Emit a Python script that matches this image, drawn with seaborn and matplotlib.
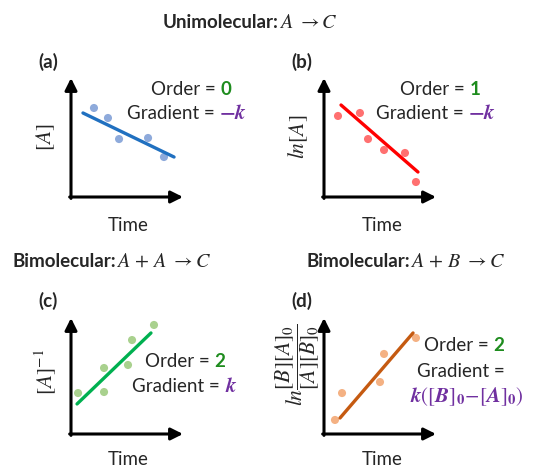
import matplotlib
matplotlib.use("Agg")
import matplotlib.pyplot as plt
import seaborn as sns

sns.set_theme(style="white")
plt.rcParams['font.family'] = ['Lato', 'DejaVu Sans']
plt.rcParams['mathtext.fontset'] = 'stix'

# ---------------- data (axis units 0..10) ----------------
a_x = [2.05, 3.30, 4.29, 6.88, 8.30]
a_y = [7.48, 6.64, 4.87, 4.96, 3.36]
a_fit_x = [1.07, 9.20]
a_fit_y = [7.06, 3.36]

b_x = [1.25, 3.21, 3.93, 5.36, 7.23, 8.21]
b_y = [6.81, 7.06, 4.87, 3.95, 3.70, 1.26]
b_fit_x = [1.52, 8.39]
b_fit_y = [7.73, 2.10]

c_x = [0.63, 2.95, 2.95, 5.45, 5.09, 7.41]
c_y = [3.53, 5.69, 3.62, 8.10, 5.95, 9.40]
c_fit_x = [0.54, 7.14]
c_fit_y = [2.59, 8.71]

d_x = [0.98, 1.61, 5.00, 5.36, 8.21]
d_y = [1.21, 3.53, 4.48, 6.90, 8.28]
d_fit_x = [1.43, 7.95]
d_fit_y = [1.38, 8.71]

panel_labels = ["(a)", "(b)", "(c)", "(d)"]
y_labels = [r"$[A]$", r"$ln[A]$", r"$[A]^{-1}$", r"$ln\dfrac{[B][A]_0}{[A][B]_0}$"]
orders = ["0", "1", "2", "2"]
x_label = "Time"

GREEN = "#1e8c1e"
PURPLE = "#7030a0"

W, H = 552, 468
fig = plt.figure(figsize=(W / 100, H / 100), dpi=100)

# overlay axes in pixel coordinates (y down)
ov = fig.add_axes([0, 0, 1, 1])
ov.set_xlim(0, W)
ov.set_ylim(H, 0)
ov.axis("off")
ov.set_zorder(5)

renderer = fig.canvas.get_renderer()


def rich(x, y, parts, ha="center", size=13.5):
    """parts: list of (text, dict). y is baseline in pixel coords."""
    arts = []
    widths = []
    for s, kw in parts:
        kw = dict(kw)
        fs = kw.pop("size", size)
        t = ov.text(0, y, s, va="baseline", ha="left", fontsize=fs, **kw)
        arts.append(t)
        widths.append(t.get_window_extent(renderer).width)
    total = sum(widths)
    if ha == "center":
        x0 = x - total / 2
    elif ha == "right":
        x0 = x - total
    else:
        x0 = x
    for t, w in zip(arts, widths):
        t.set_x(x0)
        x0 += w
    return arts


# panel boxes in pixels: (left, top, right, bottom)
boxes = [(71, 78, 183, 197), (324, 78, 436, 197),
         (71, 318, 183, 434), (324, 318, 436, 434)]
datasets = [(a_x, a_y, a_fit_x, a_fit_y, "#8eaadb", "#2070c0"),
            (b_x, b_y, b_fit_x, b_fit_y, "#ff7070", "#ff0000"),
            (c_x, c_y, c_fit_x, c_fit_y, "#a9d18e", "#00b050"),
            (d_x, d_y, d_fit_x, d_fit_y, "#f4b183", "#c55a11")]

for i, ((l, t, r, b), (px, py, fx, fy, pc, lc)) in enumerate(zip(boxes, datasets)):
    ax = fig.add_axes([l / W, 1 - b / H, (r - l) / W, (b - t) / H])
    ax.set_xlim(0, 10)
    ax.set_ylim(0, 10)
    ax.set_facecolor("none")
    for s in ax.spines.values():
        s.set_visible(False)
    ax.set_xticks([])
    ax.set_yticks([])
    sns.scatterplot(x=px, y=py, ax=ax, color=pc, s=34, edgecolor="none", zorder=2)
    sns.lineplot(x=fx, y=fy, ax=ax, color=lc, linewidth=2.4, sort=False, zorder=3)
    # arrow axes
    ax.annotate("", xy=(0, 1), xytext=(0, -0.012), xycoords="axes fraction",
                arrowprops=dict(arrowstyle="-|>,head_length=0.6,head_width=0.3",
                                color="black", lw=2.2, shrinkA=0, shrinkB=0),
                annotation_clip=False)
    ax.annotate("", xy=(1, 0), xytext=(-0.012, 0), xycoords="axes fraction",
                arrowprops=dict(arrowstyle="-|>,head_length=0.6,head_width=0.3",
                                color="black", lw=2.2, shrinkA=0, shrinkB=0),
                annotation_clip=False)

# titles
rich(250, 28, [("Unimolecular:", dict(fontweight="bold")),
               (r"$A\ \rightarrow C$", dict(size=14.5))])
rich(12, 267, [("Bimolecular:", dict(fontweight="bold")),
               (r"$A\,+\,A\ \rightarrow C$", dict(size=14.5))], ha="left")
rich(306, 267, [("Bimolecular:", dict(fontweight="bold")),
                (r"$A\,+\,B\ \rightarrow C$", dict(size=14.5))], ha="left")

# panel labels
for (x, y), lab in zip([(38, 68), (291, 68), (38, 307), (291, 307)], panel_labels):
    ov.text(x, y, lab, fontsize=13.5, fontweight="bold", va="baseline", ha="left")

# y labels
for (x, y), lab in zip([(46, 137), (298, 137), (46, 372), (298, 365)], y_labels):
    ov.text(x, y, lab, fontsize=15.5, rotation=90, va="center", ha="center")

# x labels
for (x, y) in [(128, 231), (382, 231), (128, 465), (382, 465)]:
    ov.text(x, y, x_label, fontsize=13.5, va="baseline", ha="center")

# order / gradient texts
def order_line(x, y, val):
    rich(x, y, [("Order = ", {}), (val, dict(color=GREEN, fontweight="bold"))])

order_line(191, 95, orders[0])
rich(187, 119, [("Gradient = ", {}), (r"$\boldsymbol{-k}$", dict(color=PURPLE, size=15))])
order_line(440, 95, orders[1])
rich(436, 119, [("Gradient = ", {}), (r"$\boldsymbol{-k}$", dict(color=PURPLE, size=15))])
order_line(185, 367, orders[2])
rich(185, 392, [("Gradient = ", {}), (r"$\boldsymbol{k}$", dict(color=PURPLE, size=15))])
order_line(464, 351, orders[3])
rich(461, 377, [("Gradient =", {})])
rich(467, 402, [(r"$\boldsymbol{k}([\boldsymbol{B}]_\mathbf{0}\!-\![\boldsymbol{A}]_\mathbf{0})$",
                 dict(color=PURPLE, size=15))])

fig.savefig("out.png", dpi=100)
